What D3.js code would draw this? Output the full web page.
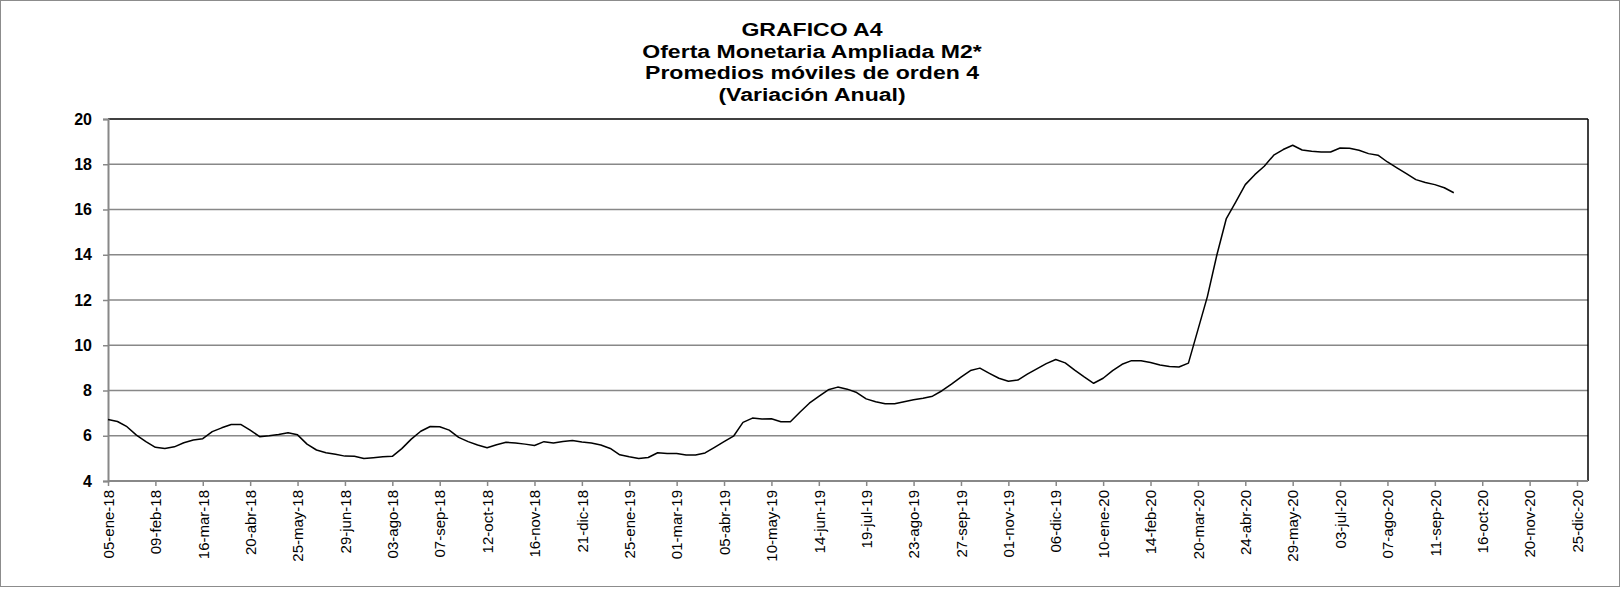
<!DOCTYPE html>
<html>
<head>
<meta charset="utf-8">
<script src="https://cdn.jsdelivr.net/npm/d3@7"></script>
<style>
  body { margin: 0; background: #fff; }
  svg { display: block; font-family: "Liberation Sans", Arial, sans-serif; }
</style>
</head>
<body>
<div class="chart"></div>
<script>
// weekly series, first observation 05-ene-18
var startDate = new Date(2018, 0, 5);
var m2Values = [
  6.72, 6.63, 6.40, 6.03, 5.74, 5.49, 5.44, 5.51, 5.69, 5.81,
  5.87, 6.18, 6.35, 6.50, 6.50, 6.25, 5.96, 6.00, 6.06, 6.13,
  6.04, 5.63, 5.37, 5.25, 5.18, 5.10, 5.09, 4.99, 5.03, 5.07,
  5.09, 5.43, 5.85, 6.20, 6.41, 6.40, 6.25, 5.93, 5.74, 5.59,
  5.47, 5.60, 5.71, 5.68, 5.63, 5.57, 5.74, 5.68, 5.75, 5.79,
  5.72, 5.68, 5.59, 5.44, 5.16, 5.07, 4.99, 5.04, 5.25, 5.22,
  5.22, 5.15, 5.15, 5.24, 5.49, 5.74, 5.98, 6.59, 6.78, 6.74,
  6.75, 6.62, 6.62, 7.04, 7.44, 7.74, 8.03, 8.15, 8.06, 7.91,
  7.63, 7.50, 7.41, 7.41, 7.50, 7.59, 7.66, 7.75, 7.99, 8.28,
  8.59, 8.88, 8.99, 8.76, 8.54, 8.41, 8.46, 8.72, 8.96, 9.19,
  9.37, 9.22, 8.90, 8.60, 8.32, 8.54, 8.88, 9.16, 9.32, 9.31,
  9.24, 9.13, 9.06, 9.04, 9.21, 10.68, 12.15, 13.99, 15.60, 16.34,
  17.10, 17.54, 17.91, 18.40, 18.65, 18.84, 18.63, 18.57, 18.54, 18.54,
  18.72, 18.71, 18.62, 18.47, 18.40, 18.10, 17.84, 17.59, 17.32, 17.19,
  17.10, 16.96, 16.74
];
var tickLabels = [
  "05-ene-18", "09-feb-18", "16-mar-18", "20-abr-18", "25-may-18", "29-jun-18",
  "03-ago-18", "07-sep-18", "12-oct-18", "16-nov-18", "21-dic-18", "25-ene-19",
  "01-mar-19", "05-abr-19", "10-may-19", "14-jun-19", "19-jul-19", "23-ago-19",
  "27-sep-19", "01-nov-19", "06-dic-19", "10-ene-20", "14-feb-20", "20-mar-20",
  "24-abr-20", "29-may-20", "03-jul-20", "07-ago-20", "11-sep-20", "16-oct-20",
  "20-nov-20", "25-dic-20"
];
var yTicks = [4, 6, 8, 10, 12, 14, 16, 18, 20];
var titleLines = [
  "GRAFICO A4",
  "Oferta Monetaria Ampliada M2*",
  "Promedios móviles de orden 4",
  "(Variación Anual)"
];

var width = 1621, height = 589;
var plotLeft = 108, plotRight = 1588, plotTop = 119, plotBottom = 481;

var series = m2Values.map(function(v, i) {
  return {date: d3.timeWeek.offset(startDate, i), value: v};
});
var tickDates = tickLabels.map(function(d, i) {
  return d3.timeWeek.offset(startDate, i * 5);
});

var svg = d3.select(".chart").append("svg")
  .attr("width", width)
  .attr("height", height);

// outer frame
svg.append("rect")
  .attr("x", 0.5).attr("y", 0.5)
  .attr("width", width - 2).attr("height", 586)
  .attr("fill", "#fff")
  .attr("stroke", "#8c8c8c")
  .attr("stroke-width", 1);

var x = d3.scaleTime()
  .domain([tickDates[0], tickDates[tickDates.length - 1]])
  .range([plotLeft, 1577]);

var y = d3.scaleLinear()
  .domain([4, 20])
  .range([plotBottom, plotTop]);

// gridlines
svg.append("g")
  .selectAll("line")
  .data(yTicks.filter(function(d) { return d > 4 && d < 20; }))
  .enter().append("line")
  .attr("x1", plotLeft).attr("x2", plotRight)
  .attr("y1", function(d) { return y(d); })
  .attr("y2", function(d) { return y(d); })
  .attr("stroke", "#888")
  .attr("stroke-width", 1.5);

// top and right border of plot area
svg.append("line")
  .attr("x1", plotLeft).attr("x2", plotRight)
  .attr("y1", y(20)).attr("y2", y(20))
  .attr("stroke", "#000").attr("stroke-width", 1.5);
svg.append("line")
  .attr("x1", plotRight).attr("x2", plotRight)
  .attr("y1", y(20)).attr("y2", plotBottom)
  .attr("stroke", "#000").attr("stroke-width", 1.5);

// y axis
var yAxis = svg.append("g")
  .attr("transform", "translate(" + plotLeft + ",0)")
  .call(d3.axisLeft(y).tickValues(yTicks).tickSize(5).tickPadding(11).tickFormat(d3.format("d")));
yAxis.select(".domain").attr("stroke", "#888").attr("stroke-width", 2);
yAxis.selectAll(".tick line").attr("stroke", "#888").attr("stroke-width", 1.5);
yAxis.selectAll(".tick text")
  .attr("fill", "#000")
  .attr("font-size", "16px")
  .attr("font-weight", "bold");

// x axis
var xAxis = svg.append("g")
  .attr("transform", "translate(0," + plotBottom + ")")
  .call(d3.axisBottom(x).tickValues(tickDates).tickSize(5).tickSizeOuter(0)
    .tickFormat(function(d, i) { return tickLabels[i]; }));
xAxis.select(".domain")
  .attr("d", "M" + plotLeft + ",0H" + plotRight)
  .attr("stroke", "#888").attr("stroke-width", 2);
xAxis.selectAll(".tick line").attr("stroke", "#888").attr("stroke-width", 1.5);
xAxis.selectAll(".tick text")
  .attr("fill", "#000")
  .attr("font-size", "15px")
  .attr("transform", "rotate(-90)")
  .attr("text-anchor", "end")
  .attr("x", -9)
  .attr("y", 0)
  .attr("dy", "0.35em");

// series line
var line = d3.line()
  .x(function(d) { return x(d.date); })
  .y(function(d) { return y(d.value); });

svg.append("path")
  .datum(series)
  .attr("fill", "none")
  .attr("stroke", "#000")
  .attr("stroke-width", 1.5)
  .attr("stroke-linejoin", "round")
  .attr("d", line);

// title (the original text is drawn a little wide)
svg.append("g")
  .selectAll("text")
  .data(titleLines)
  .enter().append("text")
  .attr("transform", function(d, i) { return "translate(812," + (36 + i * 21.5) + ") scale(1.28,1)"; })
  .attr("text-anchor", "middle")
  .attr("font-size", "18px")
  .attr("font-weight", "bold")
  .attr("fill", "#000")
  .text(function(d) { return d; });
</script>
</body>
</html>
